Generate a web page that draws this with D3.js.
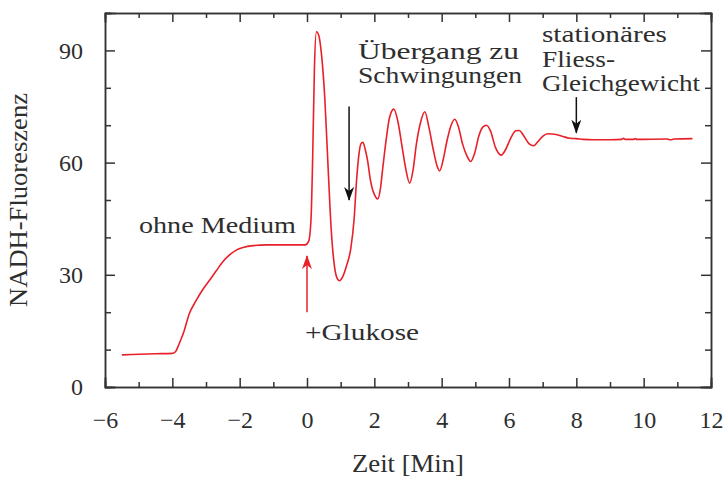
<!DOCTYPE html>
<html>
<head>
<meta charset="utf-8">
<script src="https://cdn.jsdelivr.net/npm/d3@7"></script>
<style>
  body { margin: 0; background: #fff; }
  text { font-family: "Liberation Serif", "DejaVu Serif", serif; fill: #2e2e2e; }
  .axis path, .axis line { stroke: #333; stroke-width: 1.5; }
  .axis text { font-size: 24px; fill: #2e2e2e; }
</style>
</head>
<body>
<script>
// Zeit [Min]
const time = [-5.5, -5.2, -4.5, -4.0, -3.9, -3.8, -3.65, -3.5, -3.3, -3.1, -2.9, -2.7, -2.5, -2.3, -2.1, -1.9, -1.6, -1.2, -0.5, -0.05,
  0.05, 0.12, 0.17, 0.22, 0.28, 0.35, 0.43, 0.53, 0.62, 0.72, 0.82, 0.9, 0.97, 1.05, 1.17, 1.3, 1.4, 1.47, 1.54, 1.6,
  1.66, 1.73, 1.8, 1.88, 1.94, 2.0, 2.1, 2.18, 2.25, 2.35, 2.45, 2.58, 2.7, 2.82, 2.93, 3.05, 3.15, 3.25, 3.38, 3.5,
  3.62, 3.75, 3.85, 3.94, 4.05, 4.15, 4.28, 4.39, 4.5, 4.62, 4.75, 4.86, 4.98, 5.1, 5.22, 5.33, 5.45, 5.6, 5.77, 5.9,
  6.05, 6.2, 6.3, 6.45, 6.6, 6.73, 6.85, 7.0, 7.15, 7.4, 7.6, 7.8, 8.0, 8.2, 8.5, 9.0, 9.35, 9.4, 9.45, 9.7,
  9.75, 9.8, 10.7, 10.8, 10.9, 11.45]
// NADH-Fluoreszenz
const nadh = [8.6, 8.7, 8.9, 9.0, 9.5, 11.5, 15, 19.5, 23, 26, 28.5, 31, 33.5, 35.3, 36.6, 37.3, 37.8, 38, 38, 38,
  39, 45, 62, 85, 95, 94, 89, 77, 60, 42, 32, 29, 28.4, 29.3, 32.3, 37, 45, 55, 62, 65,
  65.4, 63.5, 60.5, 55.5, 53, 51.5, 50.3, 53, 58.5, 66, 72, 74.3, 71, 64.5, 58.5, 54.5, 58, 65, 71, 73.6,
  69.5, 63.5, 59.5, 57.8, 61, 65.5, 70, 71.6, 69.5, 65, 61.8, 60.3, 62.5, 67, 69.5, 70, 68.5, 64, 62, 63.5,
  66.5, 68.5, 68.6, 67, 65, 64.5, 65.5, 67, 67.7, 67.5, 67, 66.5, 66.4, 66.2, 66.1, 66.1, 66.2, 66.5, 66.2, 66.2,
  66.4, 66.2, 66.3, 66.1, 66.3, 66.4]

const xMajor = [-6, -4, -2, 0, 2, 4, 6, 8, 10, 12]
const xMinor = [-5, -3, -1, 1, 3, 5, 7, 9, 11]
const yMajor = [0, 30, 60, 90]
const yMinor = [10, 20, 40, 50, 70, 80, 100]

// annotation arrows in data units: [t, vFrom, vTo]
const arrowsBlack = [[1.25, 75, 50], [8, 77.5, 68]]
const arrowsRed = [[0, 20, 35]]

const margin = { top: 13, right: 14, bottom: 91, left: 105 }
const width = 725 - margin.left - margin.right
const height = 478 - margin.top - margin.bottom

const x = d3.scaleLinear().domain([-6, 12]).range([0, width])
const y = d3.scaleLinear().domain([0, 100]).range([height, 0])

const svg = d3.select('body').append('svg')
    .attr('width', 725)
    .attr('height', 478)
  .append('g')
    .attr('transform', `translate(${margin.left}, ${margin.top})`)

const fmt = d => d < 0 ? '\u2212' + Math.abs(d) : d

// bottom
svg.append('g').attr('class', 'axis').attr('transform', `translate(0,${height})`)
  .call(d3.axisBottom(x).tickValues(xMajor).tickSize(-9).tickPadding(24).tickFormat(fmt))
svg.append('g').attr('class', 'axis').attr('transform', `translate(0,${height})`)
  .call(d3.axisBottom(x).tickValues(xMinor).tickSize(-5).tickFormat(''))
// top
svg.append('g').attr('class', 'axis')
  .call(d3.axisTop(x).tickValues(xMajor).tickSize(-9).tickFormat(''))
svg.append('g').attr('class', 'axis')
  .call(d3.axisTop(x).tickValues(xMinor).tickSize(-5).tickFormat(''))
// left
svg.append('g').attr('class', 'axis')
  .call(d3.axisLeft(y).tickValues(yMajor).tickSize(-10).tickPadding(22))
svg.append('g').attr('class', 'axis')
  .call(d3.axisLeft(y).tickValues(yMinor).tickSize(-6).tickFormat(''))
// right
svg.append('g').attr('class', 'axis').attr('transform', `translate(${width},0)`)
  .call(d3.axisRight(y).tickValues(yMajor).tickSize(-10).tickFormat(''))
svg.append('g').attr('class', 'axis').attr('transform', `translate(${width},0)`)
  .call(d3.axisRight(y).tickValues(yMinor).tickSize(-6).tickFormat(''))

svg.selectAll('.axis .domain').attr('stroke-linecap', 'square')

// axis titles
svg.append('text')
    .attr('x', width / 2)
    .attr('y', height + 85)
    .attr('text-anchor', 'middle')
    .attr('textLength', 112)
    .attr('lengthAdjust', 'spacingAndGlyphs')
    .style('font-size', '25px')
    .text('Zeit [Min]')

svg.append('text')
    .attr('transform', `translate(${-78},${height / 2}) rotate(-90)`)
    .attr('text-anchor', 'middle')
    .attr('textLength', 214)
    .attr('lengthAdjust', 'spacingAndGlyphs')
    .style('font-size', '25px')
    .text('NADH-Fluoreszenz')

// curve
const line = d3.line()
    .x((d, i) => x(time[i]))
    .y(d => y(d))
    .curve(d3.curveMonotoneX)

svg.append('path')
    .datum(nadh)
    .attr('fill', 'none')
    .attr('stroke', '#e8202a')
    .attr('stroke-width', 1.6)
    .attr('d', line)

// arrows
const defs = svg.append('defs')
function marker(id, color) {
  defs.append('marker')
      .attr('id', id)
      .attr('viewBox', '0 -5 14 10')
      .attr('refX', 13)
      .attr('refY', 0)
      .attr('markerUnits', 'userSpaceOnUse')
      .attr('markerWidth', 14)
      .attr('markerHeight', 10)
      .attr('orient', 'auto')
    .append('path')
      .attr('d', 'M0,-5L14,0L0,5L4,0Z')
      .attr('fill', color)
}
marker('headBlack', '#111')
marker('headRed', '#e8202a')

svg.selectAll('.arrowB')
    .data(arrowsBlack)
  .enter().append('line')
    .attr('x1', d => x(d[0])).attr('x2', d => x(d[0]))
    .attr('y1', d => y(d[1])).attr('y2', d => y(d[2]))
    .attr('stroke', '#111').attr('stroke-width', 1.5)
    .attr('marker-end', 'url(#headBlack)')

svg.selectAll('.arrowR')
    .data(arrowsRed)
  .enter().append('line')
    .attr('x1', d => x(d[0])).attr('x2', d => x(d[0]))
    .attr('y1', d => y(d[1])).attr('y2', d => y(d[2]))
    .attr('stroke', '#e8202a').attr('stroke-width', 1.5)
    .attr('marker-end', 'url(#headRed)')

// labels: left x, baseline y, rendered width
function label(px, py, w, str) {
  svg.append('text')
      .attr('x', px - margin.left)
      .attr('y', py - margin.top)
      .attr('textLength', w)
      .attr('lengthAdjust', 'spacingAndGlyphs')
      .style('font-size', '24px')
      .text(str)
}
label(139, 233, 157, 'ohne Medium')
label(305, 340, 114, '+Glukose')
label(358, 59, 161, 'Übergang zu')
label(358, 83, 164, 'Schwingungen')
label(542, 42, 125, 'stationäres')
label(542, 67, 73, 'Fliess-')
label(542, 91, 158, 'Gleichgewicht')
</script>
</body>
</html>
